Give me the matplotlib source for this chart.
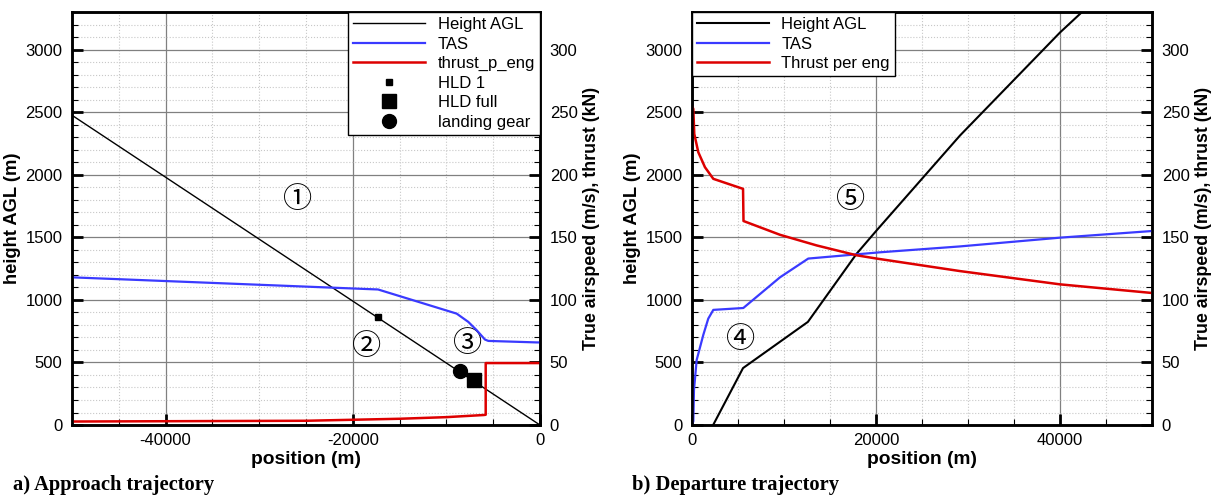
import matplotlib
matplotlib.use("Agg")
import matplotlib.pyplot as plt
from matplotlib.ticker import MultipleLocator

plt.rcParams["font.family"] = ["Liberation Sans", "DejaVu Sans"]
plt.rcParams["axes.unicode_minus"] = False

# approach (a)
app_h_x = [-50000, 0]
app_h = [2475, 0]
app_tas_x = [-50000, -17300, -8900, -7660, -6770, -5880, -5520, -350, 0]
app_tas = [118, 108.3, 89, 82.4, 75.8, 68.3, 67.2, 66, 66]
app_thr_x = [-50000, -25000, -15000, -10000, -6000, -5800, -5800, 0]
app_thr = [2.8, 3.4, 5.0, 6.3, 8.0, 8.2, 49.5, 49.5]
hld1 = (-17300, 860)
hld_full = (-7100, 360)
gear = (-8550, 430)

# departure (b)
dep_h_x = [2300, 5550, 12600, 17900, 20070, 29130, 40000, 42400]
dep_h = [0, 455, 824, 1369, 1555, 2313, 3136, 3300]
dep_tas_x = [0, 145, 217, 510, 1230, 1770, 2320, 5580, 9565, 12640, 20430, 29130, 40000, 50000]
dep_tas = [0, 3, 28, 52, 72, 85, 92, 93.5, 118, 133, 138, 142.7, 149.7, 155]
dep_thr_x = [0, 145, 250, 685, 1410, 2320, 5550, 5600, 9565, 13550, 17900, 20070, 29130, 40000, 50000]
dep_thr = [255, 252.5, 232.6, 218, 206, 196.7, 188.7, 163, 152, 143.5, 135.6, 133, 123, 112.4, 105.5]

app_marks = {"①": (-25850, 1794), "②": (-18500, 622), "③": (-7700, 646)}
dep_marks = {"④": (5300, 678), "⑤": (17200, 1794)}

BLUE = "#3a3aff"
RED = "#dd0000"


def style(ax, ax2, xlim):
    ax.set_xlim(*xlim)
    ax.set_ylim(0, 3300)
    ax2.set_ylim(0, 330)
    ax.xaxis.set_major_locator(MultipleLocator(20000))
    ax.xaxis.set_minor_locator(MultipleLocator(5000))
    ax.yaxis.set_major_locator(MultipleLocator(500))
    ax.yaxis.set_minor_locator(MultipleLocator(100))
    ax2.yaxis.set_major_locator(MultipleLocator(50))
    ax2.yaxis.set_minor_locator(MultipleLocator(10))
    ax.grid(True, which="major", color="#808080", lw=0.9)
    ax.grid(True, which="minor", color="#c8c8c8", lw=0.8, ls=":")
    ax.set_axisbelow(True)
    for a in (ax, ax2):
        a.tick_params(which="major", direction="in", length=8, width=2, labelsize=12)
        a.tick_params(which="minor", direction="in", length=4, width=0.8)
        for s in a.spines.values():
            s.set_linewidth(1.8)
    ax.tick_params(axis="y", right=False, pad=7)
    ax2.tick_params(axis="y", pad=7)
    ax.tick_params(axis="x", pad=6)
    ax.set_xlabel("position (m)", fontsize=13.8, fontweight="bold", labelpad=2)
    ax.set_ylabel("height AGL (m)", fontsize=13.2, fontweight="bold", labelpad=3)
    ax2.set_ylabel("True airspeed (m/s), thrust (kN)", fontsize=12.8, fontweight="bold", labelpad=4)


def legend(ax, handles, names, loc):
    leg = ax.legend(handles, names, loc=loc, borderaxespad=0, fancybox=False, framealpha=1,
                    edgecolor="black", fontsize=12, handlelength=4.3, labelspacing=0.27,
                    borderpad=0.3, handletextpad=0.75)
    leg.get_frame().set_linewidth(1.0)


fig = plt.figure(figsize=(12.14, 4.96), dpi=100)
axa = fig.add_axes([0.0593, 0.1431, 0.3855, 0.8327])
axb = fig.add_axes([0.5700, 0.1431, 0.3789, 0.8327])
axa2 = axa.twinx()
axb2 = axb.twinx()

# (a) approach
la, = axa.plot(app_h_x, app_h, color="black", lw=1.0)
lb, = axa2.plot(app_tas_x, app_tas, color=BLUE, lw=1.6)
lc, = axa2.plot(app_thr_x, app_thr, color=RED, lw=1.8)
m1, = axa.plot(*hld1, "s", color="black", ms=5)
m2, = axa.plot(*hld_full, "s", color="black", ms=10)
m3, = axa.plot(*gear, "o", color="black", ms=10)
style(axa, axa2, (-50000, 0))
legend(axa2, [la, lb, lc, m1, m2, m3],
       ["Height AGL", "TAS", "thrust_p_eng", "HLD 1", "HLD full", "landing gear"], "upper right")

# (b) departure
ld, = axb.plot(dep_h_x, dep_h, color="black", lw=1.5)
le, = axb2.plot(dep_tas_x, dep_tas, color=BLUE, lw=1.6)
lf, = axb2.plot(dep_thr_x, dep_thr, color=RED, lw=1.8)
style(axb, axb2, (0, 50000))
legend(axb2, [ld, le, lf], ["Height AGL", "TAS", "Thrust per eng"], "upper left")

for ax, marks in ((axa, app_marks), (axb, dep_marks)):
    for txt, (x, y) in marks.items():
        ax.text(x, y, txt, fontsize=21, ha="center", va="center",
                family=["Noto Sans CJK JP", "DejaVu Sans"])

fig.text(0.011, 0.022, "a) Approach trajectory", family=["Liberation Serif"],
         fontweight="bold", fontsize=14.8, va="center")
fig.text(0.521, 0.022, "b) Departure trajectory", family=["Liberation Serif"],
         fontweight="bold", fontsize=14.8, va="center")

fig.savefig("out.png", dpi=100)
